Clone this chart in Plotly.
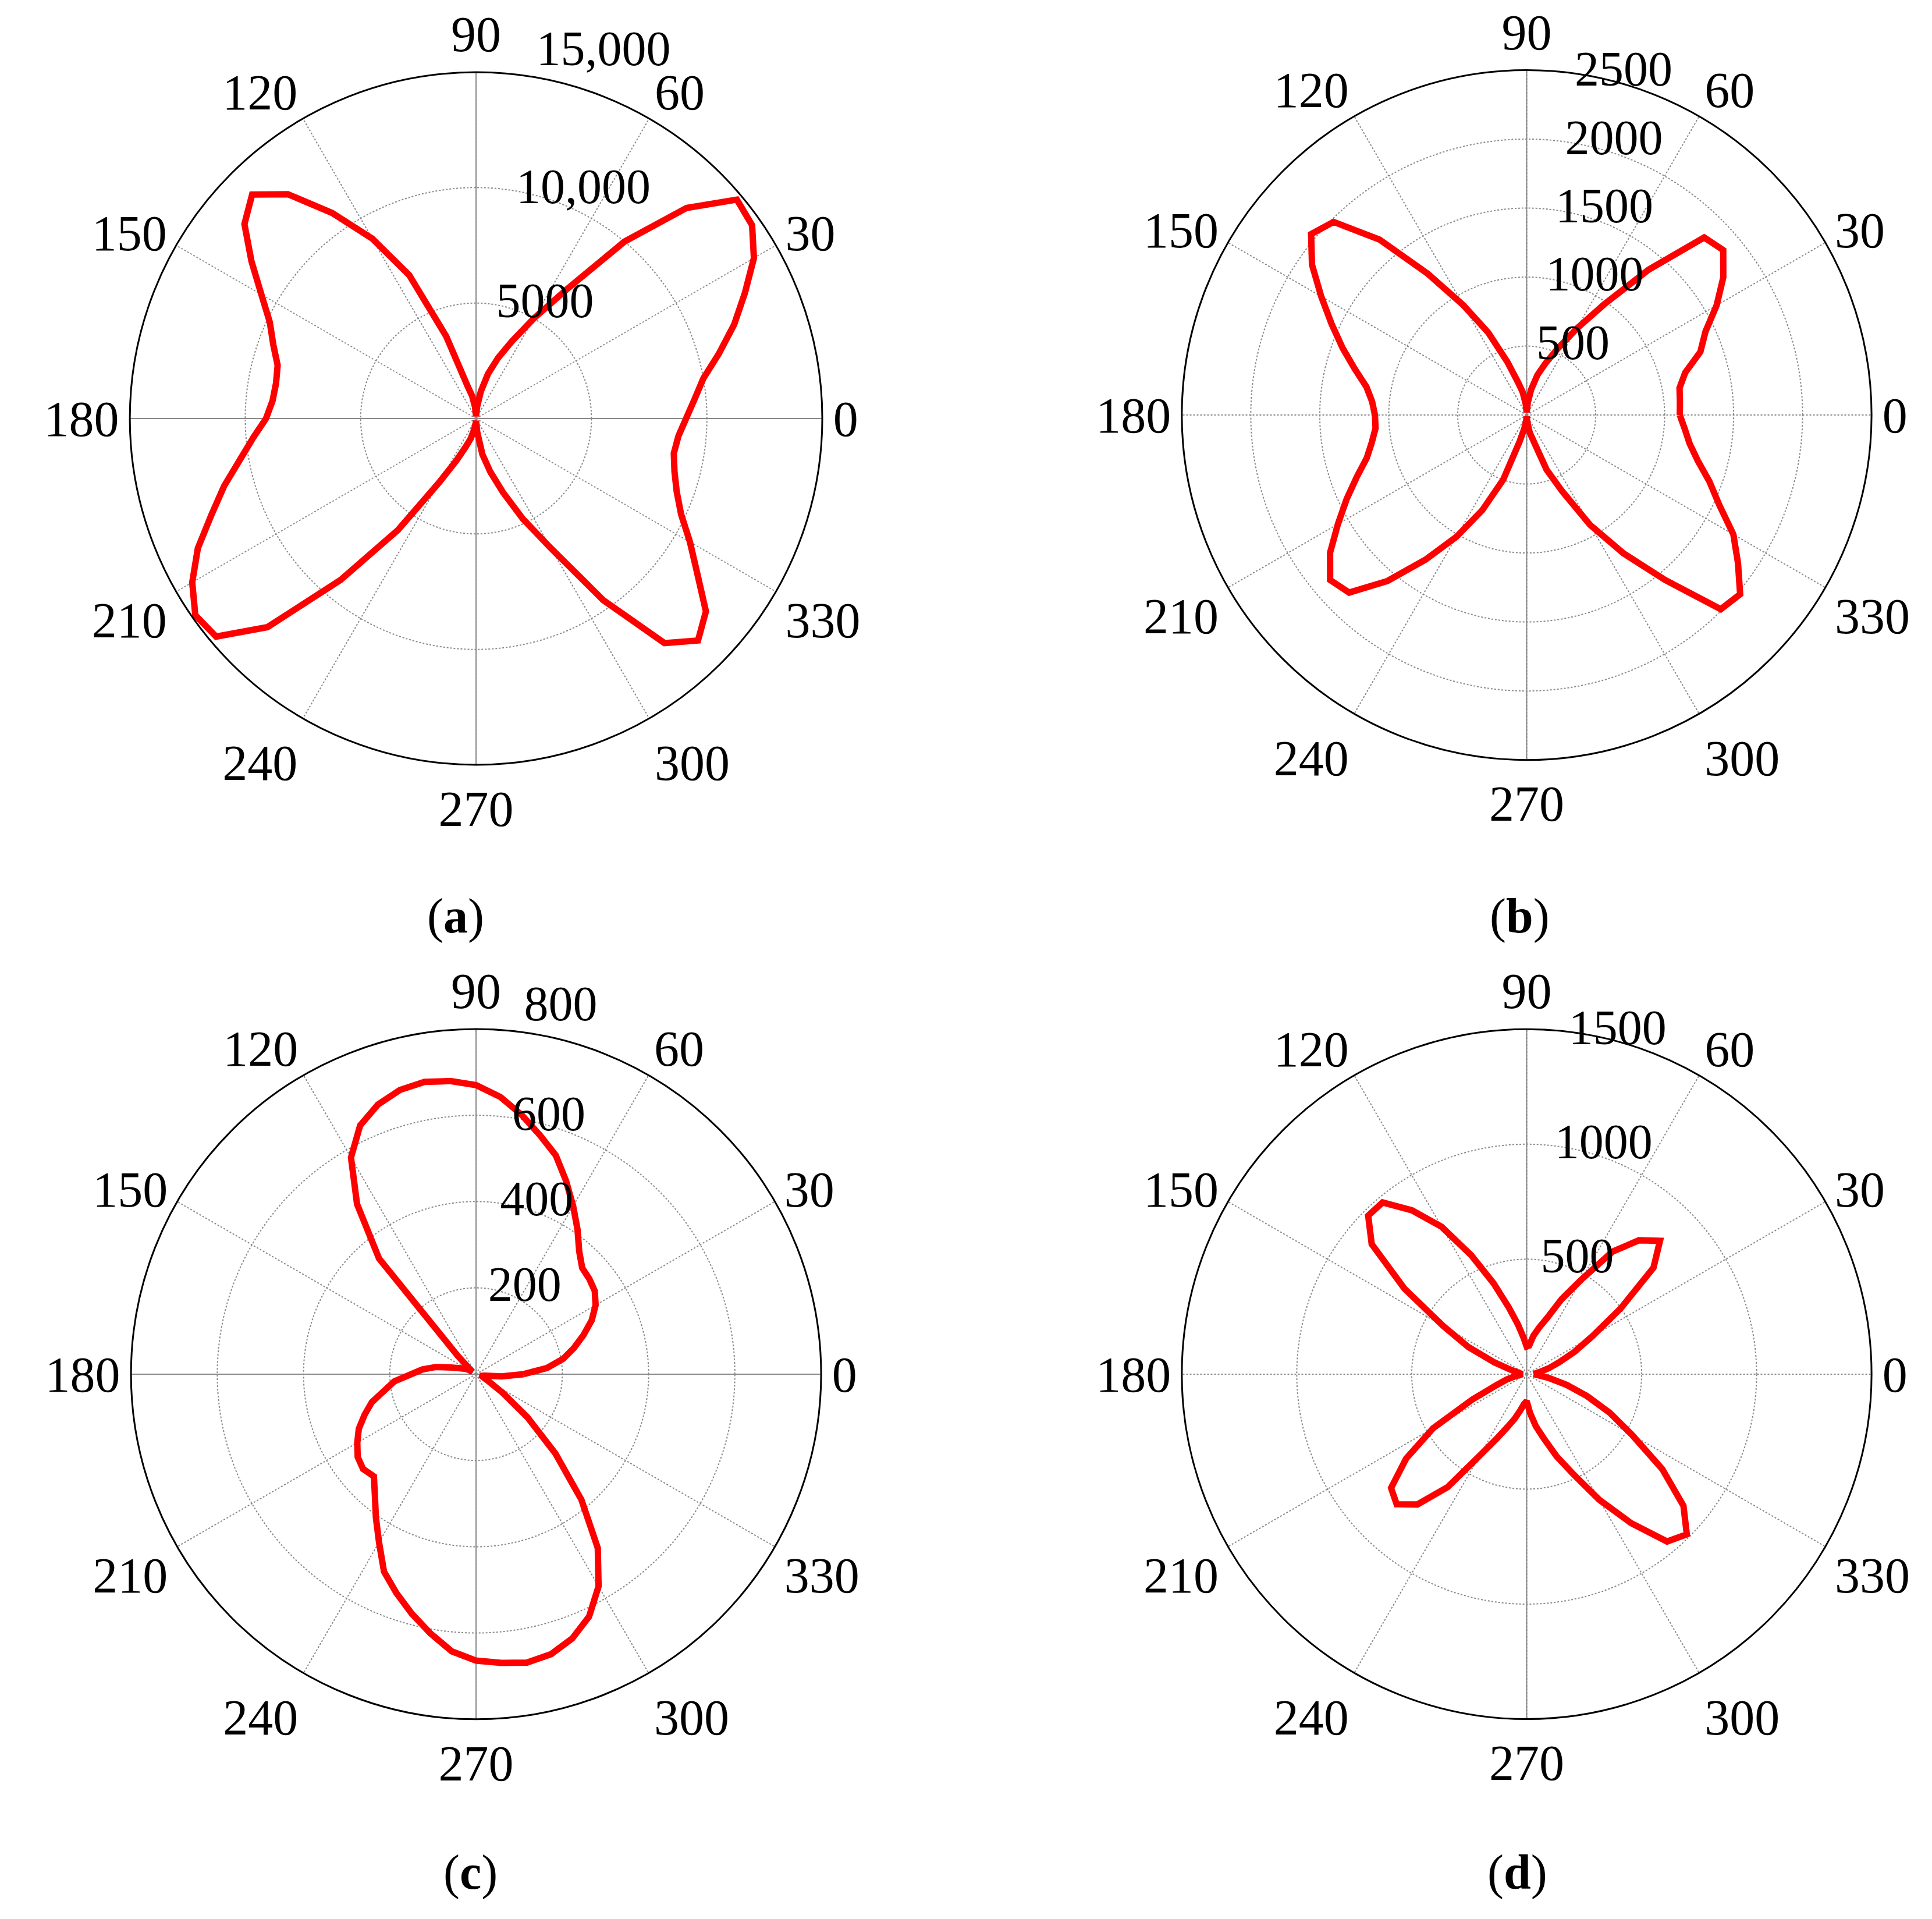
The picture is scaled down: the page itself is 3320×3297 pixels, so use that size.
import plotly.graph_objects as go

ANGLES = list(range(0, 360, 5))

# panel (a)
R_A = [9100, 9500, 10000, 10900, 11900, 12850, 13900, 14600, 14750, 12900,
       10000, 6800, 5000, 3700, 2800, 2000, 1200, 500, 100, 500,
       1000, 1500, 3800, 6850, 9000, 10870, 12680, 13720, 13100, 11880,
       10740, 9860, 9350, 8900, 8800, 8850, 9100, 9700, 10400, 11300,
       12200, 13300, 14200, 14850, 14700, 12780, 9130, 5900, 3200, 2000,
       1300, 900, 500, 200, 100, 600, 1580, 2400, 3400, 4800,
       6500, 9600, 12700, 13600, 13000, 11700, 10700, 9800, 9250, 8900,
       8700, 8800]
# panel (b)
R_B = [1110, 1115, 1125, 1190, 1340, 1430, 1590, 1740, 1860, 1820,
       1375, 980, 720, 530, 400, 300, 190, 90, 20, 80,
       170, 250, 410, 660, 920, 1250, 1660, 1980, 2040, 1900,
       1720, 1560, 1420, 1290, 1180, 1125, 1100, 1100, 1140, 1200,
       1310, 1440, 1580, 1740, 1860, 1820, 1570, 1280, 1020, 760,
       500, 200, 100, 40, 10, 50, 130, 200, 420, 610,
       920, 1224, 1560, 1990, 2020, 1870, 1730, 1540, 1410, 1285,
       1200, 1150]
# panel (c)
R_C = [110, 165, 205, 235, 265, 296, 320, 336, 343, 348,
       372, 410, 450, 494, 540, 573, 610, 645, 670, 682,
       688, 682, 665, 636, 580, 481, 350, 60, 20, 10,
       20, 30, 40, 60, 95, 125, 150, 190, 215, 250,
       275, 300, 318, 335, 342, 335, 365, 405, 450, 505,
       540, 575, 610, 645, 664, 672, 679, 672, 652, 620,
       568, 492, 380, 260, 155, 75, 35, 20, 15, 15,
       20, 60]
# panel (d)
R_D = [30, 40, 60, 100, 150, 230, 330, 500, 720, 820,
       760, 650, 474, 360, 260, 210, 170, 125, 120, 160,
       220, 300, 420, 570, 740, 870, 975, 975, 880, 650,
       420, 280, 150, 70, 35, 25, 20, 25, 50, 90,
       140, 260, 470, 640, 770, 800, 740, 600, 410, 310,
       245, 200, 160, 130, 117, 170, 230, 290, 380, 480,
       630, 790, 950, 985, 890, 720, 530, 400, 280, 180,
       100, 50]

ANG_TICKS = list(range(0, 360, 30))
ANG_TEXT = [str(a) for a in ANG_TICKS]

TICKS_A = [5000, 10000, 15000]
TEXT_A = ['5000', '10,000', '15,000']
TICKS_B = [500, 1000, 1500, 2000, 2500]
TICKS_C = [200, 400, 600, 800]
TICKS_D = [500, 1000, 1500]

# name, radii, ticks, tick text, label ray angle, x domain, y domain, solid 0-180 line, lift outer label
PANELS = [
    ('polar', R_A, TICKS_A, TEXT_A, 80, [0.0648, 0.4232], [0.6039, 0.9648], True, True),
    ('polar2', R_B, TICKS_B, [str(v) for v in TICKS_B], 82, [0.6093, 0.9663], [0.6063, 0.9660], False, False),
    ('polar3', R_C, TICKS_C, [str(v) for v in TICKS_C], 82, [0.0648, 0.4232], [0.1065, 0.4662], True, True),
    ('polar4', R_D, TICKS_D, [str(v) for v in TICKS_D], 83, [0.6093, 0.9663], [0.1065, 0.4662], False, False),
]
LABELS = ['(<b>a</b>)', '(<b>b</b>)', '(<b>c</b>)', '(<b>d</b>)']
LABEL_POS = [(0.2334, 0.5250), (0.7843, 0.5250), (0.2410, 0.0267), (0.7831, 0.0267)]

FONT = 'Liberation Serif'
GRID = '#8a8a8a'

fig = go.Figure()
layout = {}
for name, r, tv, tt, ang, dx, dy, hline, lift in PANELS:
    rmax = tv[-1]
    # solid cross-hair lines through the centre
    fig.add_trace(go.Scatterpolar(
        r=[rmax, 0, rmax], theta=[90, 0, 270], mode='lines',
        line=dict(color=GRID, width=2), subplot=name, showlegend=False,
        hoverinfo='skip'))
    if hline:
        fig.add_trace(go.Scatterpolar(
            r=[rmax, 0, rmax], theta=[0, 0, 180], mode='lines',
            line=dict(color=GRID, width=2), subplot=name, showlegend=False,
            hoverinfo='skip'))
    fig.add_trace(go.Scatterpolar(
        r=r + [r[0]], theta=ANGLES + [360], mode='lines',
        line=dict(color='#ff0000', width=11), subplot=name, showlegend=False))
    # radial tick labels, horizontal, just right of a ray near 80 deg
    pos = ['middle right'] * len(tv)
    if lift:
        pos[-1] = 'top right'
    fig.add_trace(go.Scatterpolar(
        r=tv, theta=[ang] * len(tv), mode='text', text=tt,
        textposition=pos, cliponaxis=False,
        textfont=dict(family=FONT, size=84, color='black'),
        subplot=name, showlegend=False, hoverinfo='skip'))
    layout[name] = dict(
        domain=dict(x=dx, y=dy),
        bgcolor='white',
        angularaxis=dict(
            rotation=0, direction='counterclockwise',
            tickvals=ANG_TICKS, ticktext=ANG_TEXT, ticks='',
            showline=True, linecolor='black', linewidth=3,
            gridcolor=GRID, griddash='dot', gridwidth=2,
            tickfont=dict(family=FONT, size=86, color='black'),
        ),
        radialaxis=dict(
            range=[0, rmax], tickvals=tv, ticks='', showticklabels=False,
            showline=False, angle=ang,
            gridcolor=GRID, griddash='dot', gridwidth=2,
        ),
    )

annotations = []
for txt, (x, y) in zip(LABELS, LABEL_POS):
    annotations.append(dict(
        text=txt, x=x, y=y, xref='paper', yref='paper', showarrow=False,
        xanchor='center', yanchor='middle',
        font=dict(family=FONT, size=84, color='black')))

fig.update_layout(
    width=3320, height=3297,
    margin=dict(l=0, r=0, t=0, b=0),
    paper_bgcolor='white',
    annotations=annotations,
    **layout,
)

fig.write_html('out.html')
